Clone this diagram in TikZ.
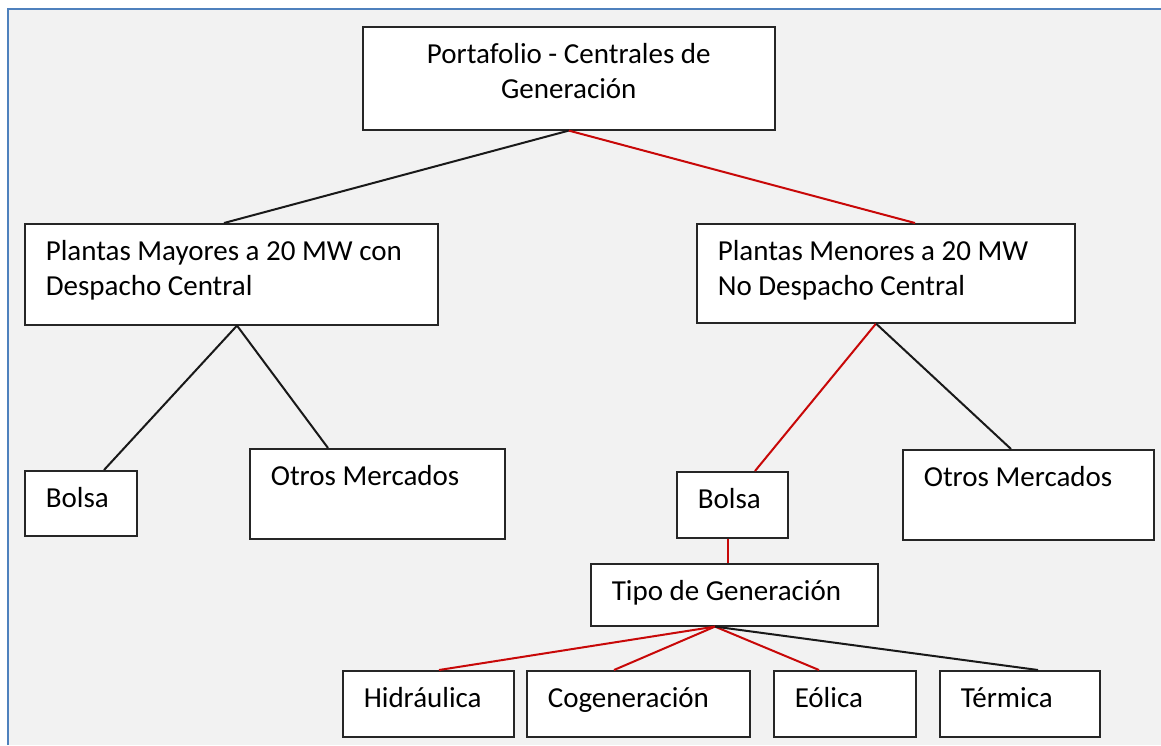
\documentclass[tikz,border=0pt]{standalone}
\usepackage{fontspec}
\setmainfont{Carlito}
\usetikzlibrary{positioning}
\usetikzlibrary{calc}
\definecolor{fondo}{RGB}{242,242,242}
\definecolor{marco}{RGB}{79,129,189}
\definecolor{rojo}{RGB}{200,8,8}
\definecolor{borde}{RGB}{38,38,38}

\begin{document}
\begin{tikzpicture}[x=1pt, y=-1pt,
  caja/.style={draw=borde, line width=1.6pt, fill=white, anchor=north west,
    inner xsep=21pt, inner ysep=0pt, text height=37pt, align=flush left,
    font=\fontsize{29pt}{35pt}\selectfont,
    execute at begin node={\spaceskip=0pt\xspaceskip=0pt}},
  negra/.style={line width=2pt, black!90},
  roja/.style={line width=2pt, rojo}]

  \useasboundingbox (0,0) rectangle (1161,745);
  \fill[fondo] (8,9) rectangle (1161,745);
  \draw[marco, line width=2pt] (8,745) -- (8,9) -- (1161,9);

  % primer nivel
  \node[caja, align=flush center, text width=370pt, text depth=66pt] (port) at (362,26) {Portafolio - Centrales de\\Generación};
  \node[caja, text width=371pt, text depth=64pt] (may) at (24,223) {Plantas Mayores a 20 MW con\\Despacho Central};
  \node[caja, text width=336pt, text depth=62pt] (men) at (696,223) {Plantas Menores a 20 MW\\No Despacho Central};

  % mercados
  \node[caja, text width=70pt, text depth=28pt] (bolsaA) at (24,470) {Bolsa};
  \node[caja, text width=213pt, text depth=53pt] (otrosA) at (249,448) {Otros Mercados};
  \node[caja, text width=69pt, text depth=29pt] (bolsaB) at (676,471) {Bolsa};
  \node[caja, text width=209pt, text depth=53pt] (otrosB) at (902,449) {Otros Mercados};
  \node[caja, text width=245pt, text depth=25pt] (tipo) at (590,563) {Tipo de Generación};

  % tipos de generacion
  \foreach \x/\w/\name/\texto in {342/129/hidr/Hidráulica, 526/181/cogen/Cogeneración, 773/100/eol/Eólica, 939/118/term/Térmica} {
    \node[caja, text width=\w pt, text depth=29pt] (\name) at (\x,670) {\texto};
  }

  \draw[negra] (port.south) -- ($(may.north west)+(200,0)$);
  \draw[roja] (port.south) -- ($(men.north west)+(219,0)$);
  \draw[negra] ($(may.south west)+(213,0)$) -- ($(bolsaA.north west)+(80,0)$);
  \draw[negra] ($(may.south west)+(213,0)$) -- ($(otrosA.north west)+(79,0)$);
  \draw[roja] ($(men.south west)+(180,0)$) -- ($(bolsaB.north west)+(79,0)$);
  \draw[negra] ($(men.south west)+(180,0)$) -- ($(otrosB.north west)+(109,0)$);
  \draw[roja] ($(bolsaB.south west)+(52,0)$) -- ($(tipo.north west)+(138,0)$);
  \draw[roja] ($(tipo.south west)+(125,0)$) -- ($(hidr.north west)+(97,0)$);
  \draw[roja] ($(tipo.south west)+(125,0)$) -- ($(cogen.north west)+(88,0)$);
  \draw[roja] ($(tipo.south west)+(125,0)$) -- ($(eol.north west)+(46,0)$);
  \draw[negra] ($(tipo.south west)+(125,0)$) -- ($(term.north west)+(99,0)$);

\end{tikzpicture}
\end{document}
